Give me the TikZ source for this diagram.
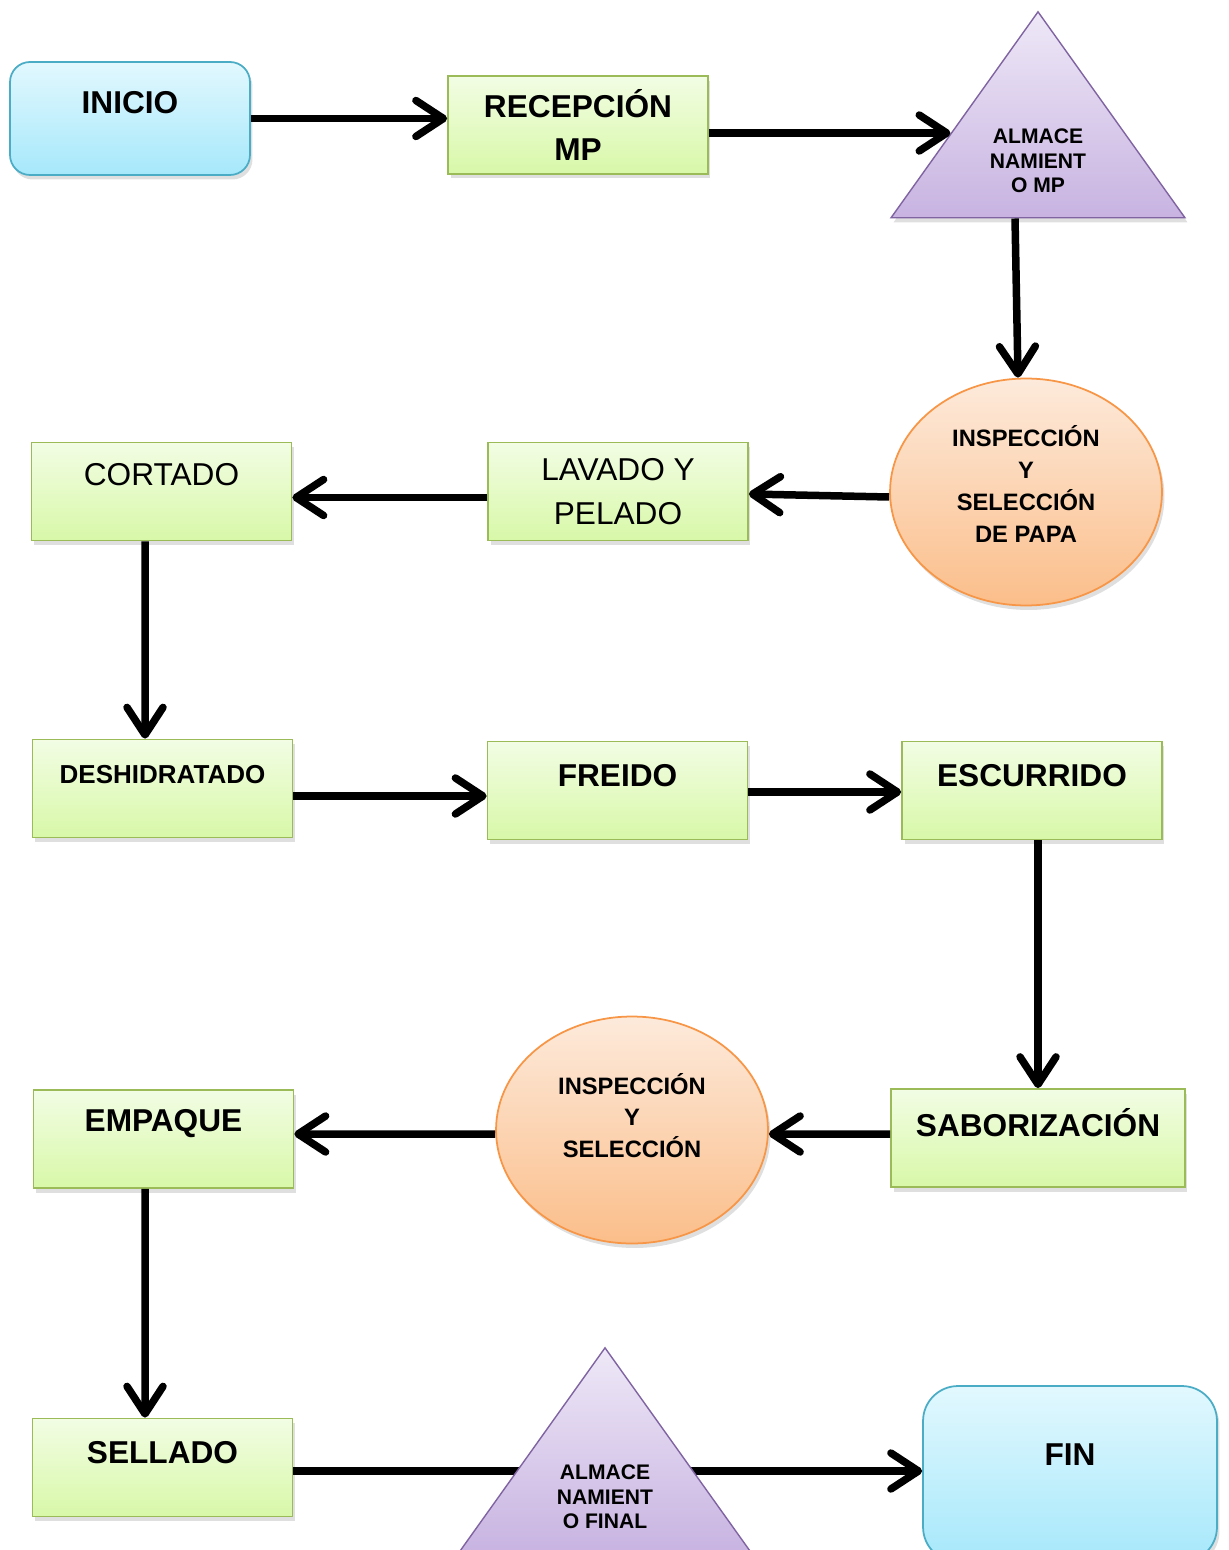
\documentclass[tikz,border=0pt]{standalone}
\usepackage{fontspec}
\setmainfont{Liberation Sans}
\usetikzlibrary{arrows.meta,shapes.geometric,shadows,calc}
\usepackage{xcolor}

\definecolor{bordeazul}{HTML}{4BACC6}
\definecolor{azularriba}{HTML}{E2F8FE}
\definecolor{azulabajo}{HTML}{A6E8FB}
\definecolor{bordeverde}{HTML}{9BBB59}
\definecolor{verdearriba}{HTML}{F2FDE4}
\definecolor{verdeabajo}{HTML}{D8F8A8}
\definecolor{bordelila}{HTML}{8064A2}
\definecolor{lilaarriba}{HTML}{EEE8F7}
\definecolor{lilaabajo}{HTML}{C8B3E1}
\definecolor{bordenaranja}{HTML}{F79646}
\definecolor{naranjaarriba}{HTML}{FDEADB}
\definecolor{naranjaabajo}{HTML}{FBBE8A}

\begin{document}
\begin{tikzpicture}[x=0.02cm,y=-0.02cm,
  >={Straight Barb[length=0.55cm,width=0.72cm,round]},
  sombra/.style={drop shadow={opacity=0.25,shadow xshift=0.05cm,shadow yshift=-0.09cm}},
  extremo/.style={rectangle,rounded corners=0.4cm,draw=bordeazul,line width=1pt,
    top color=azularriba,bottom color=azulabajo,sombra},
  proceso/.style={rectangle,draw=bordeverde,line width=1pt,minimum width=5.2cm,minimum height=1.96cm,
    top color=verdearriba,bottom color=verdeabajo,sombra},
  inspeccion/.style={ellipse,draw=bordenaranja,line width=1pt,inner sep=0pt,
    minimum width=5.44cm,minimum height=4.54cm,
    top color=naranjaarriba,bottom color=naranjaabajo,sombra},
  almacen/.style={isosceles triangle,isosceles triangle stretches,shape border rotate=90,
    minimum width=5.88cm,minimum height=4.12cm,inner sep=0pt,draw=bordelila,line width=0.8pt,
    top color=lilaarriba,bottom color=lilaabajo,sombra},
  grande/.style={font=\fontsize{18}{24.7}\selectfont\bfseries,align=center},
  normal/.style={font=\fontsize{18}{25}\selectfont,align=center},
  mediano/.style={font=\fontsize{13.5}{18.1}\selectfont\bfseries,align=center},
  chico/.style={font=\fontsize{12}{13.9}\selectfont\bfseries,align=center,yshift=-0.38cm},
  flecha/.style={->,line width=0.15cm}]

\useasboundingbox (0,0) rectangle (1229,1550);

\node[extremo,minimum width=4.8cm,minimum height=2.26cm,
  label={[grande,yshift=0.31cm]center:INICIO}] (inicio) at (130,118.5) {};
\node[proceso,label={[grande]center:RECEPCIÓN\\MP}] (recep) at (578,125) {};
\node[almacen,anchor=apex,label={[chico]center:ALMACE\\NAMIENT\\O MP}] (alm1) at (1038,10) {};

\node[inspeccion,label={[mediano,yshift=0.16cm]center:INSPECCIÓN\\Y\\SELECCIÓN\\DE PAPA}] (ins1) at (1026,492) {};
\node[proceso,label={[normal]center:LAVADO Y\\PELADO}] (lav) at (618,491.5) {};
\node[proceso,label={[normal,yshift=0.33cm]center:CORTADO}] (cort) at (161.5,491.5) {};

\node[proceso,label={[font=\fontsize{14.8}{17}\selectfont\bfseries,yshift=0.27cm]center:DESHIDRATADO}] (desh) at (162.5,788.5) {};
\node[proceso,label={[grande,yshift=0.29cm]center:FREIDO}] (frei) at (617.5,790.5) {};
\node[proceso,label={[grande,yshift=0.29cm]center:ESCURRIDO}] (escu) at (1032,790.5) {};

\node[proceso,minimum width=5.88cm,label={[grande,yshift=0.3cm]center:SABORIZACIÓN}] (sabo) at (1038,1138) {};
\node[inspeccion,label={[mediano,yshift=0.29cm]center:INSPECCIÓN\\Y\\SELECCIÓN}] (ins2) at (632,1130) {};
\node[proceso,label={[grande,yshift=0.3cm]center:EMPAQUE}] (empa) at (163.5,1139) {};

\node[proceso,label={[grande,yshift=0.29cm]center:SELLADO}] (sell) at (162.5,1467.5) {};
\node[extremo,rounded corners=0.7cm,minimum width=5.88cm,minimum height=3.52cm,
  label={[grande,yshift=0.38cm]center:FIN}] (fin) at (1070,1474) {};

\coordinate (entrada) at ($(alm1.apex)!0.59!(alm1.left corner)$);
\draw[flecha] (inicio.east) -- (inicio.east -| recep.west);
\draw[flecha] (recep.east |- entrada) -- (entrada);
\draw[flecha] ([xshift=-0.46cm]alm1.lower side) -- ([xshift=-0.16cm]ins1.north);
\draw[flecha] ([yshift=-0.1cm]ins1.west) -- ([yshift=-0.05cm]lav.east);
\draw[flecha] ([yshift=-0.12cm]lav.west) -- ([yshift=-0.12cm]cort.east);
\draw[flecha] ([xshift=-0.33cm]cort.south) -- ([xshift=-0.35cm]desh.north);
\draw[flecha] ([yshift=-0.15cm]desh.east) -- ([yshift=-0.15cm]desh.east -| frei.west);
\draw[flecha] ([yshift=-0.03cm]frei.east) -- ([yshift=-0.03cm]escu.west);
\draw[flecha] (sabo.north |- escu.south) -- (sabo.north);
\draw[flecha] ([yshift=0.08cm]sabo.west) -- ([yshift=-0.08cm]ins2.east);
\draw[flecha] ([yshift=-0.08cm]ins2.west) -- ([yshift=0.1cm]empa.east);
\draw[flecha] ([xshift=-0.37cm]empa.south) -- ([xshift=-0.35cm]sell.north);
\draw[flecha] ([yshift=-0.07cm]sell.east) -- ([yshift=-0.07cm]sell.east -| fin.west);

\node[almacen,anchor=apex,label={[chico]center:ALMACE\\NAMIENT\\O FINAL}] (alm2) at (605,1346) {};
\end{tikzpicture}
\end{document}
